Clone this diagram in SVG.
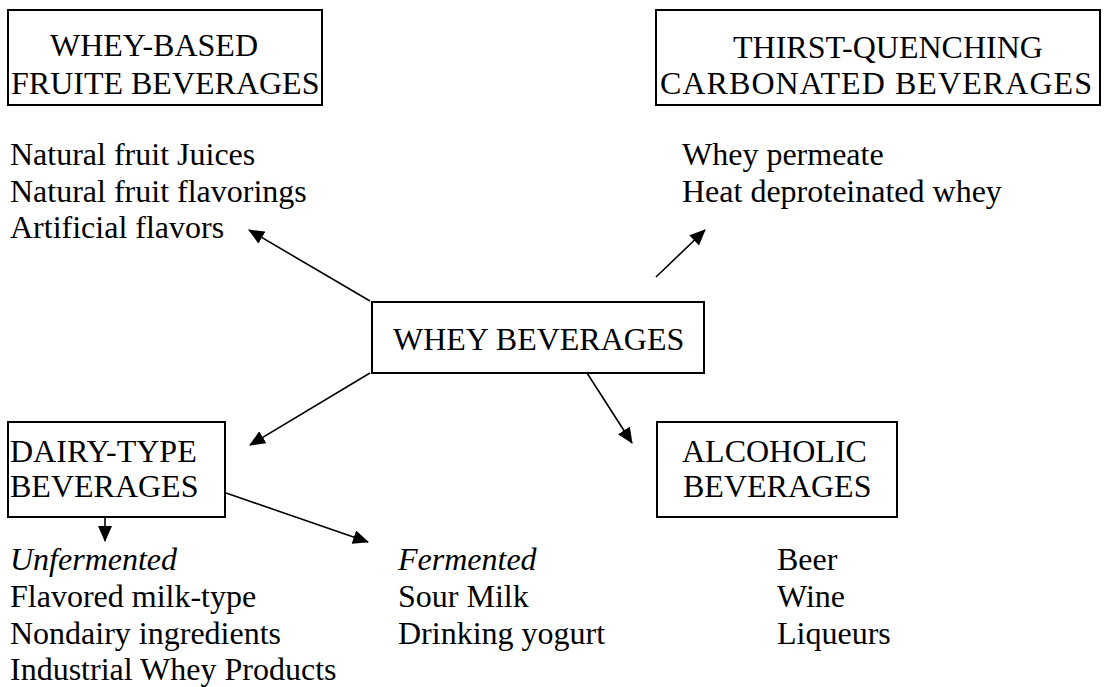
<svg xmlns="http://www.w3.org/2000/svg" width="1104" height="687" viewBox="0 0 1104 687" font-family="'Liberation Serif', 'DejaVu Serif', serif">
<style>
text{font-family:'Liberation Serif','DejaVu Serif',serif;font-size:32px;fill:#000}
.it{font-style:italic}
.box{fill:#fff;stroke:#000;stroke-width:2}
.con{stroke:#000;stroke-width:1.6;fill:none;marker-end:url(#ah)}
</style>
<defs>
<marker id="ah" markerUnits="userSpaceOnUse" markerWidth="16" markerHeight="14" refX="15" refY="7" orient="auto">
<path d="M0,0 L16,7 L0,14 Z" fill="#000"/>
</marker>
</defs>
<rect width="1104" height="687" fill="#fff"/>
<g id="connectors">
<line class="con" x1="370" y1="301" x2="249" y2="230"/>
<line class="con" x1="656" y1="277" x2="705" y2="230"/>
<line class="con" x1="370" y1="373" x2="250" y2="445"/>
<line class="con" x1="587" y1="373" x2="632" y2="443"/>
<line class="con" x1="226" y1="493" x2="368" y2="542"/>
<line class="con" x1="105" y1="517" x2="105" y2="541"/>
</g>
<g id="whey-fruit">
<rect class="box" x="8" y="10" width="314" height="95"/>
<text x="50" y="56">WHEY-BASED</text>
<text x="11" y="94">FRUITE BEVERAGES</text>
</g>
<g id="thirst">
<rect class="box" x="656" y="10" width="444" height="95"/>
<text x="733" y="58">THIRST-QUENCHING</text>
<text x="660" y="94" textLength="432" lengthAdjust="spacing">CARBONATED BEVERAGES</text>
</g>
<g id="whey-beverages">
<rect class="box" x="372" y="302" width="332" height="71"/>
<text x="393" y="350">WHEY BEVERAGES</text>
</g>
<g id="dairy">
<rect class="box" x="8" y="422" width="217" height="95"/>
<text x="10" y="462">DAIRY-TYPE</text>
<text x="10" y="497">BEVERAGES</text>
</g>
<g id="alcoholic">
<rect class="box" x="657" y="422" width="240" height="95"/>
<text x="682" y="462">ALCOHOLIC</text>
<text x="683" y="497">BEVERAGES</text>
</g>
<g id="fruit-list">
<text x="10" y="165">Natural fruit Juices</text>
<text x="10" y="202">Natural fruit flavorings</text>
<text x="10" y="238">Artificial flavors</text>
</g>
<g id="thirst-list">
<text x="682" y="165">Whey permeate</text>
<text x="682" y="202">Heat deproteinated whey</text>
</g>
<g id="unfermented">
<text class="it" x="10" y="570">Unfermented</text>
<text x="10" y="607">Flavored milk-type</text>
<text x="10" y="644">Nondairy ingredients</text>
<text x="10" y="680">Industrial Whey Products</text>
</g>
<g id="fermented">
<text class="it" x="398" y="570">Fermented</text>
<text x="398" y="607">Sour Milk</text>
<text x="398" y="644">Drinking yogurt</text>
</g>
<g id="alcoholic-list">
<text x="777" y="570">Beer</text>
<text x="777" y="607">Wine</text>
<text x="777" y="644">Liqueurs</text>
</g>
</svg>
